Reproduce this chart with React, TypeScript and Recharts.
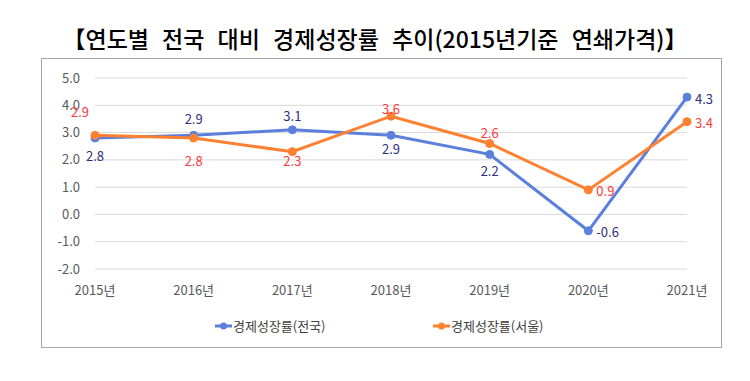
import React from 'react';
import { LineChart, Line, XAxis, YAxis, CartesianGrid, Legend } from 'recharts';

const years = ['2015년', '2016년', '2017년', '2018년', '2019년', '2020년', '2021년'];
const nationGrowth = [2.8, 2.9, 3.1, 2.9, 2.2, -0.6, 4.3];
const seoulGrowth = [2.9, 2.8, 2.3, 3.6, 2.6, 0.9, 3.4];
const yTicks = [-2, -1, 0, 1, 2, 3, 4, 5];
const seriesNames = ['경제성장률(전국)', '경제성장률(서울)'];
const titleText = '【연도별 전국 대비 경제성장률 추이(2015년기준 연쇄가격)】';

// label placement (style only): [dx, dy, anchor]
const nationLabelOffsets: [number, number, string][] = [
  [0, 17, 'middle'], [0, -17, 'middle'], [0, -14, 'middle'], [0, 13, 'middle'], [0, 16, 'middle'], [8, 1, 'start'], [8, 1, 'start'],
];
const seoulLabelOffsets: [number, number, string][] = [
  [-15, -24, 'middle'], [0, 22, 'middle'], [0, 9, 'middle'], [0, -8, 'middle'], [0, -11, 'middle'], [8, 1, 'start'], [8, 1, 'start'],
];

const data = years.map((y, i) => ({ year: y, nation: nationGrowth[i], seoul: seoulGrowth[i] }));

const FONT = '"Noto Sans CJK KR", "Noto Sans", sans-serif';
const BLUE = '#5B7FDB';
const ORANGE = '#FF8030';
const BLUE_LABEL = '#2E2E80';
const ORANGE_LABEL = '#FF3838';

const makeLabel = (offsets: [number, number, string][], color: string) => (props: any) => {
  const { x, y, value, index } = props;
  const [dx, dy, anchor] = offsets[index];
  return (
    <text x={x + dx} y={y + dy} fill={color} fontSize={13} fontFamily={FONT} textAnchor={anchor as any} dominantBaseline="central">
      {Number(value).toFixed(1)}
    </text>
  );
};

const LegendContent = (props: any) => {
  const { payload } = props;
  const lefts = [215, 433];
  const items = seriesNames.map((n) => (payload || []).find((p: any) => p.value === n)).filter(Boolean);
  return (
    <div style={{ position: 'relative', width: 750, height: 20 }}>
      {items.map((p: any, i: number) => (
        <div key={i} style={{ position: 'absolute', left: lefts[i], top: 0, display: 'flex', alignItems: 'center', fontFamily: FONT, fontSize: 13, color: '#404040', whiteSpace: 'nowrap' }}>
          <svg width={17} height={10} style={{ marginRight: 1 }}>
            <line x1={0} y1={5} x2={17} y2={5} stroke={p.color} strokeWidth={3} />
            <circle cx={8.5} cy={5} r={3.5} fill={p.color} />
          </svg>
          <span>{p.value}</span>
        </div>
      ))}
    </div>
  );
};

export default function App() {
  return (
    <div style={{ position: 'absolute', left: 0, top: 0, width: 750, height: 381, background: '#fff', overflow: 'hidden' }}>
      <div style={{ position: 'absolute', left: 0, top: 21, width: 750, textAlign: 'center', fontFamily: FONT, fontWeight: 500, fontSize: 23, wordSpacing: 8, color: '#000', whiteSpace: 'nowrap' }}>
        {titleText}
      </div>
      <div style={{ position: 'absolute', left: 41, top: 58, width: 681, height: 290, border: '1px solid #A6A6A6', boxSizing: 'border-box' }} />
      <div style={{ position: 'absolute', left: 0, top: 0 }}>
        <LineChart width={750} height={381} data={data} margin={{ top: 78, right: 63, bottom: 0, left: 0 }}>
          <CartesianGrid vertical={false} stroke="#D9D9D9" strokeWidth={1} />
          <XAxis dataKey="year" axisLine={false} tickLine={false} tickSize={0} tickMargin={17} height={92}
            tick={{ fill: '#595959', fontSize: 13, fontFamily: FONT }} interval={0} />
          <YAxis domain={[-2, 5]} ticks={yTicks} axisLine={false} tickLine={false} tickSize={0} tickMargin={15} width={95}
            tickFormatter={(v: number) => v.toFixed(1)} tick={{ fill: '#595959', fontSize: 13, fontFamily: FONT }} interval={0} />
          <Legend content={<LegendContent />} wrapperStyle={{ position: 'absolute', left: 0, top: 316, width: 750, height: 20 }} />
          <Line type="linear" dataKey="nation" name={seriesNames[0]} stroke={BLUE} strokeWidth={3}
            dot={{ r: 4, fill: BLUE, stroke: BLUE, strokeWidth: 1 }} activeDot={false} isAnimationActive={false}
            label={makeLabel(nationLabelOffsets, BLUE_LABEL)} />
          <Line type="linear" dataKey="seoul" name={seriesNames[1]} stroke={ORANGE} strokeWidth={3}
            dot={{ r: 4, fill: ORANGE, stroke: ORANGE, strokeWidth: 1 }} activeDot={false} isAnimationActive={false}
            label={makeLabel(seoulLabelOffsets, ORANGE_LABEL)} />
        </LineChart>
      </div>
    </div>
  );
}
